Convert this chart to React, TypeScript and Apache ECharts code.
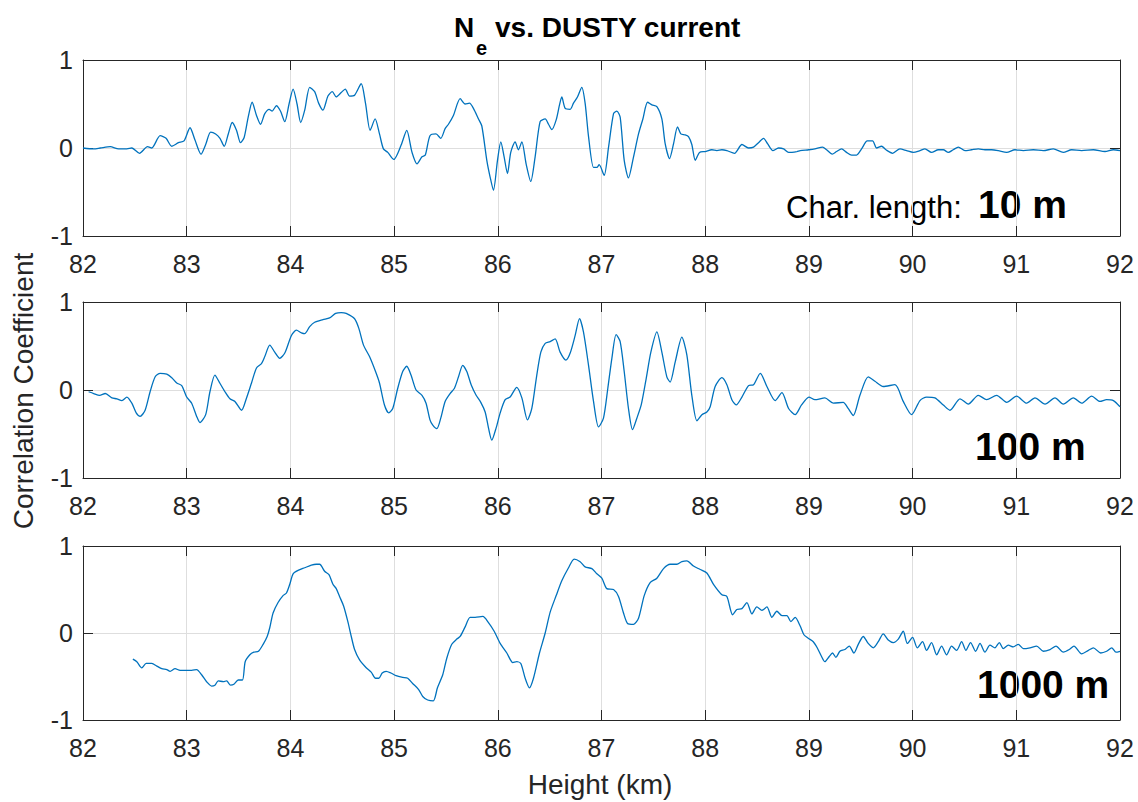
import React, { useEffect, useRef } from "react";
import * as echarts from "echarts";

// ---- Panel 1: characteristic length 10 m ----
const H10 = [82.0, 82.103, 82.167, 82.263, 82.343, 82.423, 82.471, 82.545, 82.622, 82.663, 82.744, 82.801, 82.856, 82.92, 82.974, 83.032, 83.08, 83.138, 83.183, 83.231, 83.279, 83.321, 83.362, 83.401, 83.439, 83.481, 83.519, 83.554, 83.593, 83.631, 83.673, 83.712, 83.753, 83.795, 83.824, 83.865, 83.904, 83.946, 83.987, 84.026, 84.064, 84.099, 84.138, 84.186, 84.234, 84.272, 84.314, 84.362, 84.404, 84.442, 84.49, 84.529, 84.571, 84.619, 84.683, 84.724, 84.769, 84.817, 84.859, 84.897, 84.939, 84.997, 85.067, 85.122, 85.173, 85.221, 85.269, 85.301, 85.346, 85.404,
  85.45, 85.492, 85.524, 85.572, 85.637, 85.685, 85.727, 85.765, 85.814, 85.846, 85.894, 85.926, 85.958, 85.997, 86.029, 86.061, 86.093, 86.125, 86.167, 86.199, 86.232, 86.273, 86.318, 86.36, 86.408, 86.457, 86.489, 86.521, 86.563, 86.595, 86.617, 86.65, 86.698, 86.73, 86.768, 86.81, 86.842, 86.875, 86.923, 86.955, 86.977, 87.026, 87.068, 87.116, 87.148, 87.18, 87.219, 87.26, 87.309, 87.357, 87.399, 87.444, 87.486, 87.534, 87.582, 87.614, 87.656, 87.695, 87.733, 87.765, 87.807, 87.839, 87.871, 87.904, 87.945, 88.0, 88.064, 88.113, 88.161, 88.209, 88.283, 88.354, 88.418, 88.466, 88.514, 88.563, 88.601, 88.653, 88.707, 88.756, 88.804, 88.884, 88.916,
  89.0, 89.058, 89.132, 89.17, 89.225, 89.267, 89.315, 89.363, 89.412, 89.46, 89.508, 89.563, 89.614, 89.653, 89.701, 89.743, 89.807, 89.878, 89.942, 90.006, 90.071, 90.119, 90.183, 90.248, 90.296, 90.344, 90.392, 90.441, 90.505, 90.569, 90.633, 90.698, 90.762, 90.826, 90.907, 90.987, 91.068, 91.164, 91.26, 91.357, 91.453, 91.534, 91.63, 91.743, 91.855, 91.936, 92.0];
const R10 = [0.0, -0.01, 0.0, 0.015, -0.01, -0.01, 0.0, -0.06, 0.015, 0.0, 0.14, 0.11, 0.02, 0.06, 0.08, 0.23, 0.09, -0.07, 0.04, 0.18, 0.16, 0.11, 0.02, 0.16, 0.29, 0.2, 0.06, 0.12, 0.35, 0.52, 0.37, 0.27, 0.39, 0.44, 0.42, 0.48, 0.42, 0.3, 0.5, 0.67, 0.5, 0.29, 0.43, 0.69, 0.64, 0.51, 0.43, 0.59, 0.64, 0.58, 0.63, 0.67, 0.59, 0.6, 0.73, 0.51, 0.2, 0.33, 0.16, -0.01, -0.05, -0.13, 0.03, 0.2, -0.05, -0.18, -0.1, -0.08, 0.14, 0.16,
  0.11, 0.22, 0.27, 0.37, 0.56, 0.5, 0.51, 0.45, 0.33, 0.25, -0.14, -0.33, -0.48, -0.14, 0.07, -0.1, -0.29, -0.05, 0.07, -0.02, 0.07, -0.18, -0.38, -0.1, 0.3, 0.33, 0.27, 0.21, 0.32, 0.49, 0.58, 0.45, 0.44, 0.51, 0.58, 0.69, 0.51, 0.13, -0.22, -0.22, -0.19, -0.31, 0.01, 0.39, 0.42, 0.35, -0.14, -0.34, -0.1, 0.16, 0.33, 0.52, 0.49, 0.47, 0.33, 0.05, -0.12, 0.05, 0.24, 0.16, 0.15, 0.13, 0.04, -0.14, -0.05, -0.04, -0.02, -0.03, -0.02, -0.03, -0.06, 0.04, 0.0, 0.01, 0.06, 0.11, 0.05, -0.03, 0.0, -0.01, -0.05, -0.04, -0.03,
  -0.02, -0.01, 0.01, -0.02, -0.07, -0.04, -0.01, -0.05, -0.08, -0.08, -0.01, 0.08, 0.08, 0.0, 0.02, -0.02, -0.06, -0.01, -0.03, -0.05, -0.03, -0.01, -0.05, -0.02, -0.02, -0.05, -0.02, 0.01, -0.03, -0.02, -0.01, -0.02, -0.02, -0.03, -0.05, -0.02, -0.03, -0.02, -0.03, -0.01, -0.05, -0.02, -0.03, -0.02, -0.04, -0.02, -0.03];

// ---- Panel 2: characteristic length 100 m ----
const H100 = [82.054, 82.103, 82.16, 82.215, 82.279, 82.327, 82.375, 82.423, 82.471, 82.513, 82.551, 82.599, 82.647, 82.696, 82.744, 82.808, 82.856, 82.904, 82.952, 83.0, 83.048, 83.096, 83.128, 83.183, 83.224, 83.272, 83.314, 83.369, 83.417, 83.465, 83.529, 83.577, 83.625, 83.673, 83.721, 83.753, 83.801, 83.849, 83.897, 83.946, 84.01, 84.058, 84.106, 84.138, 84.186, 84.234, 84.314, 84.378, 84.436, 84.49, 84.538, 84.619, 84.66, 84.705, 84.763, 84.821, 84.859, 84.907, 84.949, 84.987, 85.035, 85.083, 85.122, 85.163, 85.212, 85.269, 85.308, 85.346,
  85.373, 85.412, 85.45, 85.492, 85.54, 85.582, 85.621, 85.662, 85.701, 85.743, 85.791, 85.836, 85.878, 85.91, 85.942, 85.984, 86.023, 86.071, 86.119, 86.183, 86.232, 86.286, 86.328, 86.376, 86.415, 86.457, 86.505, 86.553, 86.601, 86.656, 86.698, 86.746, 86.788, 86.826, 86.875, 86.923, 86.971, 87.019, 87.061, 87.1, 87.141, 87.18, 87.219, 87.26, 87.299, 87.341, 87.383, 87.431, 87.476, 87.534, 87.582, 87.63, 87.662, 87.711, 87.775, 87.823, 87.871, 87.92, 87.968, 88.016, 88.048, 88.096, 88.161, 88.209, 88.257, 88.299, 88.354, 88.418, 88.466, 88.531, 88.595, 88.675, 88.74, 88.804, 88.868,
  88.929, 89.0, 89.058, 89.154, 89.235, 89.331, 89.379, 89.428, 89.492, 89.572, 89.637, 89.717, 89.83, 89.91, 89.99, 90.071, 90.135, 90.215, 90.296, 90.36, 90.457, 90.537, 90.633, 90.714, 90.81, 90.907, 91.003, 91.1, 91.18, 91.277, 91.373, 91.453, 91.55, 91.63, 91.727, 91.807, 91.871, 91.936, 92.0];
const R100 = [-0.02, -0.04, -0.06, -0.04, -0.09, -0.1, -0.12, -0.08, -0.15, -0.26, -0.3, -0.23, -0.02, 0.15, 0.19, 0.18, 0.14, 0.08, 0.05, -0.08, -0.15, -0.3, -0.37, -0.28, -0.02, 0.17, 0.09, -0.02, -0.1, -0.13, -0.23, -0.09, 0.08, 0.25, 0.3, 0.38, 0.51, 0.43, 0.36, 0.42, 0.62, 0.68, 0.65, 0.64, 0.72, 0.77, 0.8, 0.82, 0.87, 0.88, 0.87, 0.81, 0.7, 0.51, 0.38, 0.21, 0.08, -0.17, -0.26, -0.21, 0.02, 0.21, 0.27, 0.17, 0.0, -0.06, -0.15, -0.34,
  -0.4, -0.44, -0.32, -0.13, -0.04, 0.02, 0.15, 0.28, 0.21, 0.06, -0.06, -0.14, -0.25, -0.43, -0.57, -0.43, -0.26, -0.11, -0.08, 0.03, -0.09, -0.34, -0.21, 0.17, 0.43, 0.53, 0.55, 0.58, 0.43, 0.34, 0.42, 0.62, 0.81, 0.66, 0.28, -0.13, -0.42, -0.32, 0.02, 0.36, 0.63, 0.55, 0.21, -0.21, -0.45, -0.32, -0.17, 0.13, 0.43, 0.66, 0.43, 0.15, 0.09, 0.32, 0.6, 0.4, -0.06, -0.35, -0.28, -0.25, -0.19, 0.04, 0.14, 0.06, -0.11, -0.17, -0.08, 0.05, 0.06, 0.19, 0.04, -0.12, -0.03, -0.21, -0.28,
  -0.17, -0.08, -0.11, -0.09, -0.15, -0.14, -0.21, -0.29, -0.06, 0.15, 0.1, 0.04, 0.06, -0.13, -0.28, -0.12, -0.08, -0.09, -0.17, -0.23, -0.1, -0.16, -0.06, -0.11, -0.06, -0.14, -0.07, -0.15, -0.09, -0.16, -0.09, -0.16, -0.09, -0.15, -0.07, -0.13, -0.11, -0.12, -0.19];

// ---- Panel 3: characteristic length 1000 m ----
const H1000 = [82.481, 82.519, 82.567, 82.609, 82.663, 82.712, 82.76, 82.808, 82.84, 82.888, 82.936, 83.0, 83.048, 83.096, 83.144, 83.192, 83.24, 83.272, 83.304, 83.353, 83.385, 83.423, 83.455, 83.497, 83.538, 83.564, 83.609, 83.647, 83.692, 83.737, 83.776, 83.801, 83.833, 83.881, 83.929, 83.962, 83.994, 84.026, 84.074, 84.138, 84.202, 84.25, 84.282, 84.33, 84.372, 84.41, 84.442, 84.474, 84.513, 84.554, 84.587, 84.619, 84.667, 84.731, 84.779, 84.821, 84.853, 84.885, 84.923, 84.971, 85.019, 85.083, 85.131, 85.179, 85.237, 85.276, 85.324, 85.378,
  85.418, 85.469, 85.508, 85.556, 85.605, 85.637, 85.685, 85.733, 85.781, 85.855, 85.91, 85.965, 86.023, 86.087, 86.145, 86.183, 86.222, 86.264, 86.305, 86.344, 86.402, 86.457, 86.505, 86.563, 86.617, 86.682, 86.736, 86.794, 86.842, 86.907, 86.955, 87.003, 87.051, 87.116, 87.164, 87.212, 87.251, 87.309, 87.357, 87.412, 87.469, 87.534, 87.598, 87.662, 87.727, 87.775, 87.823, 87.887, 87.952, 88.016, 88.08, 88.161, 88.209, 88.264, 88.305, 88.354, 88.402, 88.45, 88.498, 88.547, 88.595, 88.643, 88.691, 88.74, 88.788, 88.826, 88.868, 88.916,
  88.952, 88.994, 89.042, 89.08, 89.122, 89.154, 89.196, 89.228, 89.26, 89.299, 89.347, 89.389, 89.434, 89.476, 89.524, 89.572, 89.621, 89.669, 89.717, 89.765, 89.814, 89.862, 89.91, 89.949, 90.0, 90.045, 90.096, 90.135, 90.183, 90.232, 90.28, 90.328, 90.376, 90.424, 90.473, 90.514, 90.559, 90.608, 90.65, 90.698, 90.746, 90.794, 90.836, 90.875, 90.923, 90.971, 91.019, 91.068, 91.132, 91.196, 91.26, 91.325, 91.383, 91.453, 91.511, 91.556, 91.63, 91.695, 91.743, 91.814, 91.871, 91.92, 91.961, 92.0];
const R1000 = [-0.3, -0.33, -0.4, -0.35, -0.35, -0.38, -0.41, -0.42, -0.44, -0.41, -0.43, -0.43, -0.43, -0.42, -0.48, -0.56, -0.61, -0.6, -0.55, -0.56, -0.55, -0.6, -0.59, -0.54, -0.54, -0.33, -0.25, -0.22, -0.21, -0.13, -0.04, 0.06, 0.23, 0.35, 0.43, 0.46, 0.56, 0.68, 0.72, 0.75, 0.78, 0.79, 0.79, 0.71, 0.67, 0.56, 0.51, 0.42, 0.31, 0.13, -0.04, -0.19, -0.31, -0.4, -0.45, -0.52, -0.52, -0.46, -0.44, -0.46, -0.49, -0.51, -0.52, -0.58, -0.65, -0.73, -0.77, -0.78,
  -0.63, -0.48, -0.29, -0.13, -0.07, -0.04, 0.07, 0.18, 0.18, 0.19, 0.12, 0.02, -0.12, -0.23, -0.34, -0.33, -0.35, -0.52, -0.63, -0.52, -0.23, 0.0, 0.24, 0.43, 0.6, 0.75, 0.85, 0.82, 0.76, 0.74, 0.68, 0.63, 0.51, 0.5, 0.42, 0.23, 0.11, 0.1, 0.17, 0.43, 0.58, 0.63, 0.74, 0.79, 0.79, 0.82, 0.83, 0.77, 0.73, 0.69, 0.56, 0.44, 0.42, 0.21, 0.27, 0.28, 0.35, 0.22, 0.3, 0.26, 0.3, 0.18, 0.25, 0.2, 0.2, 0.13, 0.18, 0.08,
  -0.02, -0.06, -0.1, -0.17, -0.27, -0.33, -0.27, -0.23, -0.28, -0.21, -0.19, -0.15, -0.23, -0.13, -0.04, -0.12, -0.17, -0.1, -0.01, -0.08, -0.11, -0.07, 0.02, -0.12, -0.05, -0.17, -0.1, -0.2, -0.11, -0.25, -0.15, -0.25, -0.15, -0.2, -0.1, -0.2, -0.11, -0.21, -0.12, -0.22, -0.14, -0.17, -0.11, -0.18, -0.14, -0.16, -0.13, -0.18, -0.17, -0.15, -0.21, -0.19, -0.15, -0.22, -0.19, -0.15, -0.24, -0.2, -0.17, -0.23, -0.21, -0.17, -0.22, -0.21];

const X_TICKS = [82, 83, 84, 85, 86, 87, 88, 89, 90, 91, 92];
const Y_TICKS = [-1, 0, 1];
const TITLE_MAIN = "N";
const TITLE_SUB = "e";
const TITLE_REST = "vs. DUSTY current";
const Y_NAME = "Correlation Coefficient";
const X_NAME = "Height (km)";
const PANEL_LABELS = ["10 m", "100 m", "1000 m"];
const CHAR_PREFIX = "Char. length:";

const FONT = "'Liberation Sans', Arial, Helvetica, sans-serif";
const INK = "#262626";
const LINE = "#0072BD";

export default function App() {
  const ref = useRef<HTMLDivElement>(null);
  useEffect(() => {
    if (!ref.current) return;
    const chart = echarts.init(ref.current, null, { renderer: "svg" });
    const tops = [60, 302, 546];
    const heights = [176, 176, 174];
    const grids = tops.map((t, i) => ({
      left: 83,
      top: t,
      width: 1037,
      height: heights[i],
      show: false,
    }));
    const xAxes: any[] = [];
    const yAxes: any[] = [];
    for (let i = 0; i < 3; i++) {
      const common = {
        type: "value",
        gridIndex: i,
        min: X_TICKS[0],
        max: X_TICKS[X_TICKS.length - 1],
        interval: 1,
        axisLine: { show: true, onZero: false, lineStyle: { color: INK, width: 1 } },
        axisTick: { show: true, inside: true, length: 10, lineStyle: { color: INK, width: 1 } },
      };
      xAxes.push({
        ...common,
        position: "bottom",
        axisLabel: { show: true, fontSize: 25, color: INK, fontFamily: FONT, margin: 15 },
        splitLine: { show: true, lineStyle: { color: "#dedede", width: 1 } },
      });
      xAxes.push({
        ...common,
        position: "top",
        axisLabel: { show: false },
        splitLine: { show: false },
      });
      const ycommon = {
        type: "value",
        gridIndex: i,
        min: Y_TICKS[0],
        max: Y_TICKS[Y_TICKS.length - 1],
        interval: 1,
        axisLine: { show: true, onZero: false, lineStyle: { color: INK, width: 1 } },
        axisTick: { show: true, inside: true, length: 10, lineStyle: { color: INK, width: 1 } },
      };
      yAxes.push({
        ...ycommon,
        position: "left",
        axisLabel: { show: true, fontSize: 25, color: INK, fontFamily: FONT, margin: 10 },
        splitLine: { show: true, lineStyle: { color: "#dedede", width: 1 } },
      });
      yAxes.push({
        ...ycommon,
        position: "right",
        axisLabel: { show: false },
        splitLine: { show: false },
      });
    }
    const sets = [
      [H10, R10],
      [H100, R100],
      [H1000, R1000],
    ];
    const series = sets.map(([h, r], i) => ({
      type: "line",
      xAxisIndex: i * 2,
      yAxisIndex: i * 2,
      data: h.map((x, k) => [x, r[k]]),
      showSymbol: false,
      smooth: 0.25,
      lineStyle: { color: LINE, width: 1.3 },
      clip: true,
    }));
    const txt = (x: number, y: number, text: string, size: number, bold: boolean, align = "left") => ({
      type: "text",
      x,
      y,
      style: {
        text,
        fontSize: size,
        fontWeight: bold ? "bold" : "normal",
        fontFamily: FONT,
        fill: "#000",
        align,
        verticalAlign: "middle",
      },
    });
    const graphic: any[] = [
      txt(454, 27.5, TITLE_MAIN, 28, true),
      txt(476, 48, TITLE_SUB, 20, true),
      txt(495, 27.5, TITLE_REST, 28, true),
      {
        type: "text",
        x: 23,
        y: 391,
        rotation: Math.PI / 2,
        style: {
          text: Y_NAME,
          fontSize: 28,
          fontFamily: FONT,
          fill: INK,
          align: "center",
          verticalAlign: "middle",
        },
      },
      {
        type: "text",
        x: 600,
        y: 784,
        style: {
          text: X_NAME,
          fontSize: 28,
          fontFamily: FONT,
          fill: INK,
          align: "center",
          verticalAlign: "middle",
        },
      },
      txt(786, 207.5, CHAR_PREFIX, 31, false),
      txt(978, 204.5, PANEL_LABELS[0], 39, true),
      txt(975, 446.5, PANEL_LABELS[1], 39, true),
      txt(977, 684.5, PANEL_LABELS[2], 39, true),
    ];
    chart.setOption({
      animation: false,
      backgroundColor: "#ffffff",
      grid: grids,
      xAxis: xAxes,
      yAxis: yAxes,
      series,
      graphic,
    });
    return () => chart.dispose();
  }, []);
  return (
    <div
      ref={ref}
      style={{ position: "fixed", left: 0, top: 0, width: 1138, height: 802, background: "#fff" }}
    />
  );
}
